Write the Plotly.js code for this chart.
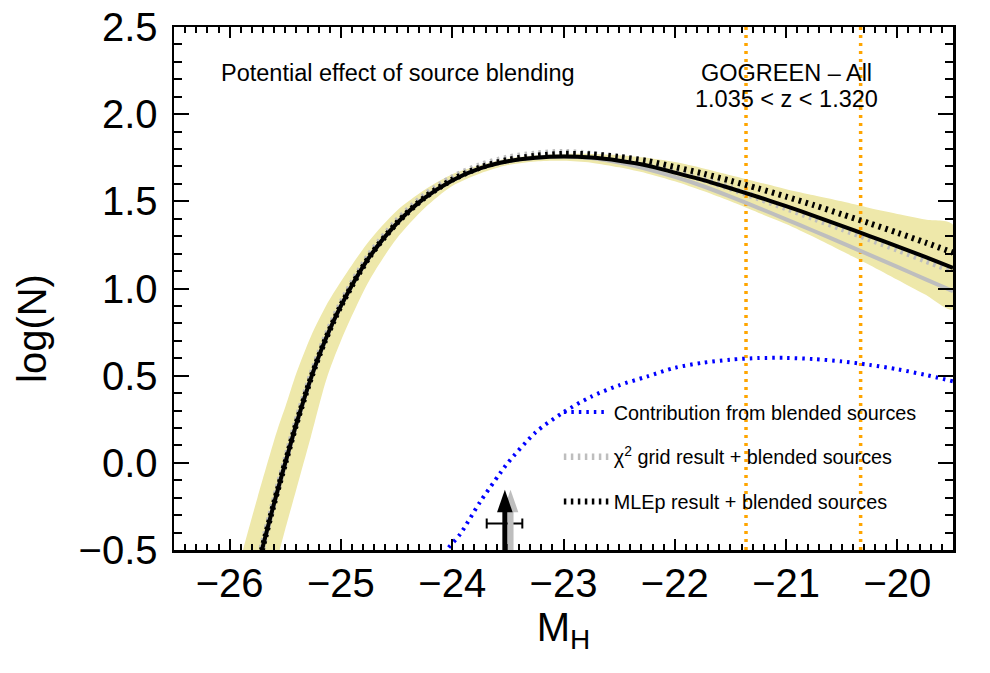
<!DOCTYPE html>
<html><head><meta charset="utf-8">
<script src="https://cdn.plot.ly/plotly-3.0.1.min.js"></script>
<style>html,body{margin:0;padding:0;background:#fff}#chart{width:990px;height:673px}</style>
</head><body><div id="chart"></div>
<script>
// ---- data ----
const magGrid = [-25.80, -25.71, -25.60, -25.50, -25.40, -25.27, -25.15, -25.00, -24.75, -24.50, -24.25, -24.00, -23.75, -23.50, -23.25, -23.00, -22.75, -22.50, -22.25, -22.00, -21.75, -21.50, -21.25, -21.00, -20.75, -20.50, -20.25, -20.00, -19.75, -19.50];
const logN_MLEp = [-0.734, -0.50, -0.23, 0.00, 0.225, 0.485, 0.69, 0.90, 1.175, 1.372, 1.518, 1.620, 1.689, 1.730, 1.750, 1.757, 1.751, 1.733, 1.706, 1.665, 1.623, 1.575, 1.525, 1.472, 1.417, 1.359, 1.301, 1.242, 1.181, 1.118];
const logN_chi2 = [-0.734, -0.50, -0.23, 0.00, 0.225, 0.485, 0.69, 0.90, 1.175, 1.372, 1.518, 1.620, 1.689, 1.730, 1.750, 1.757, 1.748, 1.722, 1.685, 1.640, 1.588, 1.527, 1.463, 1.397, 1.330, 1.262, 1.193, 1.124, 1.054, 0.984];
const logN_MLEp_blend = [-0.734, -0.50, -0.23, 0.00, 0.225, 0.485, 0.69, 0.901, 1.176, 1.374, 1.521, 1.624, 1.694, 1.738, 1.761, 1.772, 1.769, 1.755, 1.732, 1.697, 1.660, 1.618, 1.574, 1.527, 1.478, 1.426, 1.374, 1.320, 1.264, 1.206];
const logN_chi2_blend = [-0.72, -0.488, -0.218, 0.012, 0.237, 0.497, 0.702, 0.913, 1.188, 1.386, 1.533, 1.636, 1.706, 1.750, 1.773, 1.782, 1.771, 1.748, 1.714, 1.674, 1.628, 1.575, 1.519, 1.462, 1.403, 1.344, 1.284, 1.224, 1.162, 1.100];
const magBlend = [-24.15, -24.05, -23.93, -23.75, -23.57, -23.50, -23.25, -23.00, -22.75, -22.50, -22.25, -22.00, -21.75, -21.50, -21.25, -21.00, -20.75, -20.50, -20.25, -20.00, -19.75, -19.50];
const logN_blend = [-0.59, -0.50, -0.41, -0.225, -0.06, 0.00, 0.175, 0.29, 0.38, 0.445, 0.495, 0.545, 0.574, 0.592, 0.601, 0.602, 0.595, 0.582, 0.562, 0.537, 0.505, 0.468];
const magBand = [-26.00, -25.88, -25.75, -25.60, -25.55, -25.50, -25.40, -25.27, -25.13, -25.00, -24.75, -24.50, -24.25, -24.00, -23.75, -23.50, -23.25, -23.00, -22.75, -22.50, -22.25, -22.00, -21.75, -21.50, -21.25, -21.00, -20.75, -20.50, -20.25, -20.00, -19.75, -19.50];
const bandUpper = [-0.80, -0.50, -0.20, 0.13, 0.23, 0.32, 0.515, 0.725, 0.905, 1.04, 1.27, 1.445, 1.565, 1.655, 1.707, 1.745, 1.764, 1.772, 1.772, 1.765, 1.75, 1.725, 1.69, 1.65, 1.61, 1.57, 1.535, 1.50, 1.462, 1.428, 1.396, 1.366];
const bandLower = [-1.50, -1.20, -0.90, -0.61, -0.50, -0.38, -0.15, 0.15, 0.48, 0.70, 1.04, 1.285, 1.46, 1.588, 1.66, 1.708, 1.729, 1.733, 1.722, 1.695, 1.66, 1.615, 1.56, 1.50, 1.435, 1.37, 1.295, 1.215, 1.135, 1.05, 0.965, 0.879];
const magLimits = [-21.36, -20.33];           // orange dotted verticals
const mStar = [-23.476, -23.527];             // [chi2 grid, MLEp]
const mStarErrMinus = [0.163];
const mStarErrPlus = [0.157];

// ---- style constants ----
const xRange = [-26.5, -19.5];
const yRange = [-0.5, 2.5];
const FONT = '"Liberation Sans", Arial, Helvetica, sans-serif';
const GRAY = '#bebebe';
const BAND = '#eee8aa';
const arrowTipY = -0.155, arrowBaseY = -0.283, arrowHalfW = 0.07, errBarY = -0.348;
const SPL = {shape: 'spline', smoothing: 0.8};

const traces = [];
traces.push({x: magBand.concat(magBand.slice().reverse()),
             y: bandUpper.concat(bandLower.slice().reverse()),
             type: 'scatter', mode: 'lines', fill: 'toself', fillcolor: BAND,
             line: Object.assign({width: 0, color: BAND}, SPL), showlegend: false, hoverinfo: 'skip'});
magLimits.forEach(m => traces.push({x: [m, m], y: yRange, type: 'scatter', mode: 'lines',
  line: {color: '#ffa500', width: 3.5, dash: '3px,5px'}, showlegend: false}));
traces.push({x: magGrid, y: logN_chi2, type: 'scatter', mode: 'lines', line: Object.assign({color: GRAY, width: 4}, SPL), showlegend: false});
traces.push({x: magGrid, y: logN_chi2_blend, type: 'scatter', mode: 'lines', line: Object.assign({color: GRAY, width: 6.5, dash: '2.5px,4.5px'}, SPL),
  name: 'χ<sup>2</sup> grid result + blended sources', legendgroup: 'g2', legendrank: 2});
traces.push({x: magGrid, y: logN_MLEp, type: 'scatter', mode: 'lines', line: Object.assign({color: 'black', width: 4}, SPL), showlegend: false});
traces.push({x: magGrid, y: logN_MLEp_blend, type: 'scatter', mode: 'lines', line: Object.assign({color: 'black', width: 6, dash: '2.5px,4.5px'}, SPL),
  name: 'MLEp result + blended sources', legendgroup: 'g3', legendrank: 3});
traces.push({x: magBlend, y: logN_blend, type: 'scatter', mode: 'lines', line: Object.assign({color: '#0000ff', width: 4, dash: '2.5px,5px'}, SPL),
  name: 'Contribution from blended sources', legendgroup: 'g1', legendrank: 1});
traces.push({x: [mStar[1]], y: [errBarY], type: 'scatter', mode: 'markers', marker: {size: 1, color: 'rgba(0,0,0,0)'},
  error_x: {type: 'data', symmetric: false, array: mStarErrPlus, arrayminus: mStarErrMinus, color: 'black', thickness: 2, width: 5},
  showlegend: false});

const shapes = [];
const arrowCols = [GRAY, 'black'], shaftW = [6, 5];
mStar.forEach((m, i) => {
  shapes.push({type: 'line', xref: 'x', yref: 'y', x0: m, x1: m, y0: yRange[0], y1: arrowBaseY + 0.01,
    line: {color: arrowCols[i], width: shaftW[i]}});
  shapes.push({type: 'path', xref: 'x', yref: 'y',
    path: `M ${m - arrowHalfW},${arrowBaseY} L ${m + arrowHalfW},${arrowBaseY} L ${m},${arrowTipY} Z`,
    fillcolor: arrowCols[i], line: {width: 0}});
});

const axisCommon = {showline: true, linecolor: 'black', linewidth: 2.5, mirror: 'allticks', ticks: 'inside',
  tickcolor: 'black', tickwidth: 2, showgrid: false, zeroline: false,
  tickfont: {family: FONT, size: 40, color: 'black'}};

const layout = {
  width: 990, height: 673,
  margin: {l: 174, r: 37, t: 27, b: 123, pad: 0},
  paper_bgcolor: 'white', plot_bgcolor: 'white',
  font: {family: FONT, color: 'black'},
  showlegend: true,
  legend: {x: 0.494, y: 0.301, xanchor: 'left', yanchor: 'top', bgcolor: 'rgba(0,0,0,0)', itemwidth: 45,
    font: {family: FONT, size: 19.8, color: 'black'}, tracegroupgap: 16, traceorder: 'grouped'},
  xaxis: Object.assign({}, axisCommon, {range: xRange, tick0: -26, dtick: 1, ticklen: 11,
    ticklabelstandoff: -4,
    minor: {dtick: 0.1, ticklen: 6, tickwidth: 2, tickcolor: 'black', ticks: 'inside', showgrid: false},
    title: {text: 'M<sub>H</sub>', font: {family: FONT, size: 40, color: 'black'}, standoff: 3}}),
  yaxis: Object.assign({}, axisCommon, {range: yRange, tick0: 0, dtick: 0.5, tickformat: '.1f', ticklen: 15,
    ticklabelstandoff: 6,
    minor: {dtick: 0.1, ticklen: 8, tickwidth: 2, tickcolor: 'black', ticks: 'inside', showgrid: false}}),
  shapes: shapes,
  annotations: [
    {xref: 'paper', yref: 'paper', x: -0.1823, y: 0.4245, xanchor: 'center', yanchor: 'middle', showarrow: false,
     textangle: -90, text: 'log(N)', font: {family: FONT, size: 40, color: 'black'}},
    {xref: 'paper', yref: 'paper', x: 0.058, y: 0.912, xanchor: 'left', yanchor: 'middle', showarrow: false,
     text: 'Potential effect of source blending', font: {family: FONT, size: 23.5, color: 'black'}},
    {xref: 'paper', yref: 'paper', x: 0.786, y: 0.912, xanchor: 'center', yanchor: 'middle', showarrow: false,
     text: 'GOGREEN – All', font: {family: FONT, size: 23.5, color: 'black'}},
    {xref: 'paper', yref: 'paper', x: 0.786, y: 0.862, xanchor: 'center', yanchor: 'middle', showarrow: false,
     text: '1.035 &lt; z &lt; 1.320', font: {family: FONT, size: 23.5, color: 'black'}}
  ]
};

Plotly.newPlot('chart', traces, layout, {displayModeBar: false, staticPlot: true});
</script>
</body></html>
